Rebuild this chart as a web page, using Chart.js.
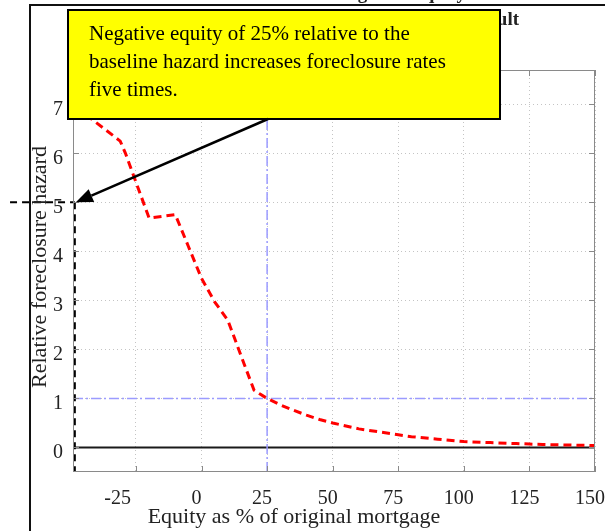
<!DOCTYPE html>
<html>
<head>
<meta charset="utf-8">
<script src="https://cdn.jsdelivr.net/npm/chart.js@4"></script>
<style>
  html, body { margin: 0; padding: 0; background: #fff; }
  #wrap { width: 605px; height: 531px; }
</style>
</head>
<body>
<div id="wrap"><canvas id="hazardChart" width="605" height="531"></canvas></div>
<script>
// values
var equity = [-48, -31, -29, -20, -10, -5, 0, 5, 10, 15, 20, 22, 25, 30, 35, 40, 45, 50, 60, 70, 75, 80, 90, 100, 110, 120, 125, 130, 140, 150];
var hazard = [6.95, 6.25, 6.0, 4.68, 4.75, 4.1, 3.45, 2.97, 2.6, 1.88, 1.17, 1.1, 1.0, 0.87, 0.76, 0.66, 0.57, 0.5, 0.38, 0.3, 0.26, 0.22, 0.17, 0.12, 0.1, 0.08, 0.07, 0.06, 0.05, 0.04];

var xTicks = [-25, 0, 25, 50, 75, 100, 125, 150];
var yTicks = [0, 1, 2, 3, 4, 5, 6, 7];
var xRange = [-49, 150];
var yRange = [-0.5, 7.7];

var baselineHazard = 1;      // blue dash-dot horizontal
var baselineEquity = 25;     // blue dash-dot vertical
var markEquity = -48.3;      // black dashed marker
var markHazard = 5;
var markLeftEdge = -73;

var noteLines = [
  "Negative equity of 25% relative to the",
  "baseline hazard increases foreclosure rates",
  "five times."
];
var titleLines = ["Foreclosure Hazard and Negative Equity", "Relative Hazard of Default"];
var xTitle = "Equity as % of original mortgage";
var yTitle = "Relative foreclosure hazard";

var serif = '"Liberation Serif", "Times New Roman", serif';

function pts(xs, ys) {
  return xs.map(function (v, i) { return { x: v, y: ys[i] }; });
}

var decor = {
  id: "decor",
  beforeDraw: function (chart) {
    var ctx = chart.ctx;
    ctx.save();
    ctx.fillStyle = "#fff";
    ctx.fillRect(0, 0, chart.width, chart.height);
    ctx.restore();
  },
  afterDraw: function (chart) {
    var ctx = chart.ctx, a = chart.chartArea;
    var sx = chart.scales.x, sy = chart.scales.y;
    ctx.save();

    // axes box and inward tick marks
    ctx.strokeStyle = "#8a8a8a";
    ctx.lineWidth = 1;
    ctx.setLineDash([]);
    ctx.strokeRect(a.left + 0.5, a.top + 0.5, a.right - a.left - 1, a.bottom - a.top - 1);
    ctx.beginPath();
    xTicks.forEach(function (v) {
      var px = Math.round(sx.getPixelForValue(v)) + 0.5;
      ctx.moveTo(px, a.bottom); ctx.lineTo(px, a.bottom - 6);
      ctx.moveTo(px, a.top); ctx.lineTo(px, a.top + 6);
    });
    yTicks.forEach(function (v) {
      var py = Math.round(sy.getPixelForValue(v)) + 0.5;
      ctx.moveTo(a.left, py); ctx.lineTo(a.left + 6, py);
      ctx.moveTo(a.right, py); ctx.lineTo(a.right - 6, py);
    });
    ctx.stroke();

    // tick labels
    ctx.fillStyle = "#222";
    ctx.font = "20px " + serif;
    ctx.textBaseline = "alphabetic";
    xTicks.forEach(function (v) {
      var px = sx.getPixelForValue(v) - 5;
      ctx.textAlign = v < 0 ? "right" : "center";
      ctx.fillText(String(v), px, 503.5);
    });
    ctx.textAlign = "right";
    yTicks.forEach(function (v) {
      ctx.fillText(String(v), 63, sy.getPixelForValue(v) + 11);
    });

    // axis titles
    ctx.font = "22px " + serif;
    ctx.textAlign = "center";
    ctx.fillText(xTitle, 294, 523);
    ctx.save();
    ctx.translate(46, 267);
    ctx.rotate(-Math.PI / 2);
    ctx.fillText(yTitle, 0, 0);
    ctx.restore();

    // figure frame
    ctx.strokeStyle = "#111";
    ctx.lineWidth = 2;
    ctx.beginPath();
    ctx.moveTo(30, chart.height); ctx.lineTo(30, 5); ctx.lineTo(chart.width, 5);
    ctx.stroke();

    // title (mostly hidden behind the note)
    ctx.font = "bold 19px " + serif;
    ctx.textAlign = "center";
    ctx.fillText(titleLines[0], 300, -1);
    ctx.textAlign = "right";
    ctx.fillText(titleLines[1], 519, 25);

    // note box
    ctx.fillStyle = "#ffff00";
    ctx.fillRect(68, 10, 432, 109);
    ctx.strokeStyle = "#000";
    ctx.lineWidth = 2;
    ctx.strokeRect(68, 10, 432, 109);
    ctx.fillStyle = "#000";
    ctx.font = "21px " + serif;
    ctx.textAlign = "left";
    ctx.fillText(noteLines[0], 89, 40);
    ctx.fillText(noteLines[1], 89, 68);
    ctx.fillText(noteLines[2], 89, 96);

    // arrow to the marker
    var tx = sx.getPixelForValue(markEquity) + 1, ty = sy.getPixelForValue(markHazard);
    var fx = 268, fy = 119;
    var ang = Math.atan2(ty - fy, tx - fx);
    var len = 17, half = 7;
    var bx = tx - len * Math.cos(ang), by = ty - len * Math.sin(ang);
    ctx.strokeStyle = "#000";
    ctx.lineWidth = 2.5;
    ctx.beginPath();
    ctx.moveTo(fx, fy); ctx.lineTo(bx, by);
    ctx.stroke();
    ctx.beginPath();
    ctx.moveTo(tx, ty);
    ctx.lineTo(bx + half * Math.sin(ang), by - half * Math.cos(ang));
    ctx.lineTo(bx - half * Math.sin(ang), by + half * Math.cos(ang));
    ctx.closePath();
    ctx.fill();

    ctx.restore();
  }
};

var ctxHazard = document.getElementById("hazardChart").getContext("2d");
var hazardChart = new Chart(ctxHazard, {
  type: "line",
  data: {
    datasets: [
      {
        label: "Relative hazard",
        data: pts(equity, hazard),
        borderColor: "#ff0000",
        borderWidth: 3,
        borderDash: [8, 5],
        pointRadius: 0,
        tension: 0,
        order: 0
      },
      {
        label: "Marker vertical",
        data: pts([markEquity, markEquity], [markHazard, yRange[0]]),
        borderColor: "#000",
        borderWidth: 2,
        borderDash: [7, 5],
        pointRadius: 0,
        order: 1
      },
      {
        label: "Marker horizontal",
        data: pts([markLeftEdge, markEquity], [markHazard, markHazard]),
        borderColor: "#000",
        borderWidth: 2,
        borderDash: [7, 5],
        pointRadius: 0,
        clip: false,
        order: 1
      },
      {
        label: "Baseline hazard",
        data: pts(xRange, [baselineHazard, baselineHazard]),
        borderColor: "#9b9bff",
        borderWidth: 1.5,
        borderDash: [10, 3, 2, 3],
        pointRadius: 0,
        order: 2
      },
      {
        label: "Baseline equity",
        data: pts([baselineEquity, baselineEquity], yRange),
        borderColor: "#9b9bff",
        borderWidth: 1.5,
        borderDash: [10, 3, 2, 3],
        pointRadius: 0,
        order: 2
      },
      {
        label: "Zero",
        data: pts(xRange, [0, 0]),
        borderColor: "#1a1a1a",
        borderWidth: 2,
        pointRadius: 0,
        order: 3
      }
    ]
  },
  options: {
    responsive: false,
    animation: false,
    devicePixelRatio: 1,
    layout: { padding: { left: 0, right: 10, top: 70, bottom: 0 } },
    plugins: { legend: { display: false }, tooltip: { enabled: false }, title: { display: false } },
    scales: {
      x: {
        type: "linear",
        min: xRange[0],
        max: xRange[1],
        ticks: { stepSize: 25, includeBounds: false, display: false },
        grid: { color: "#c4c4c4", lineWidth: 1, drawTicks: false },
        border: { display: false, dash: [1, 3] },
        afterFit: function (s) { s.height = 59; }
      },
      y: {
        type: "linear",
        min: yRange[0],
        max: yRange[1],
        ticks: { stepSize: 1, includeBounds: false, display: false },
        grid: { color: "#c4c4c4", lineWidth: 1, drawTicks: false },
        border: { display: false, dash: [1, 3] },
        afterFit: function (s) { s.width = 73; }
      }
    }
  },
  plugins: [decor]
});
</script>
</body>
</html>
